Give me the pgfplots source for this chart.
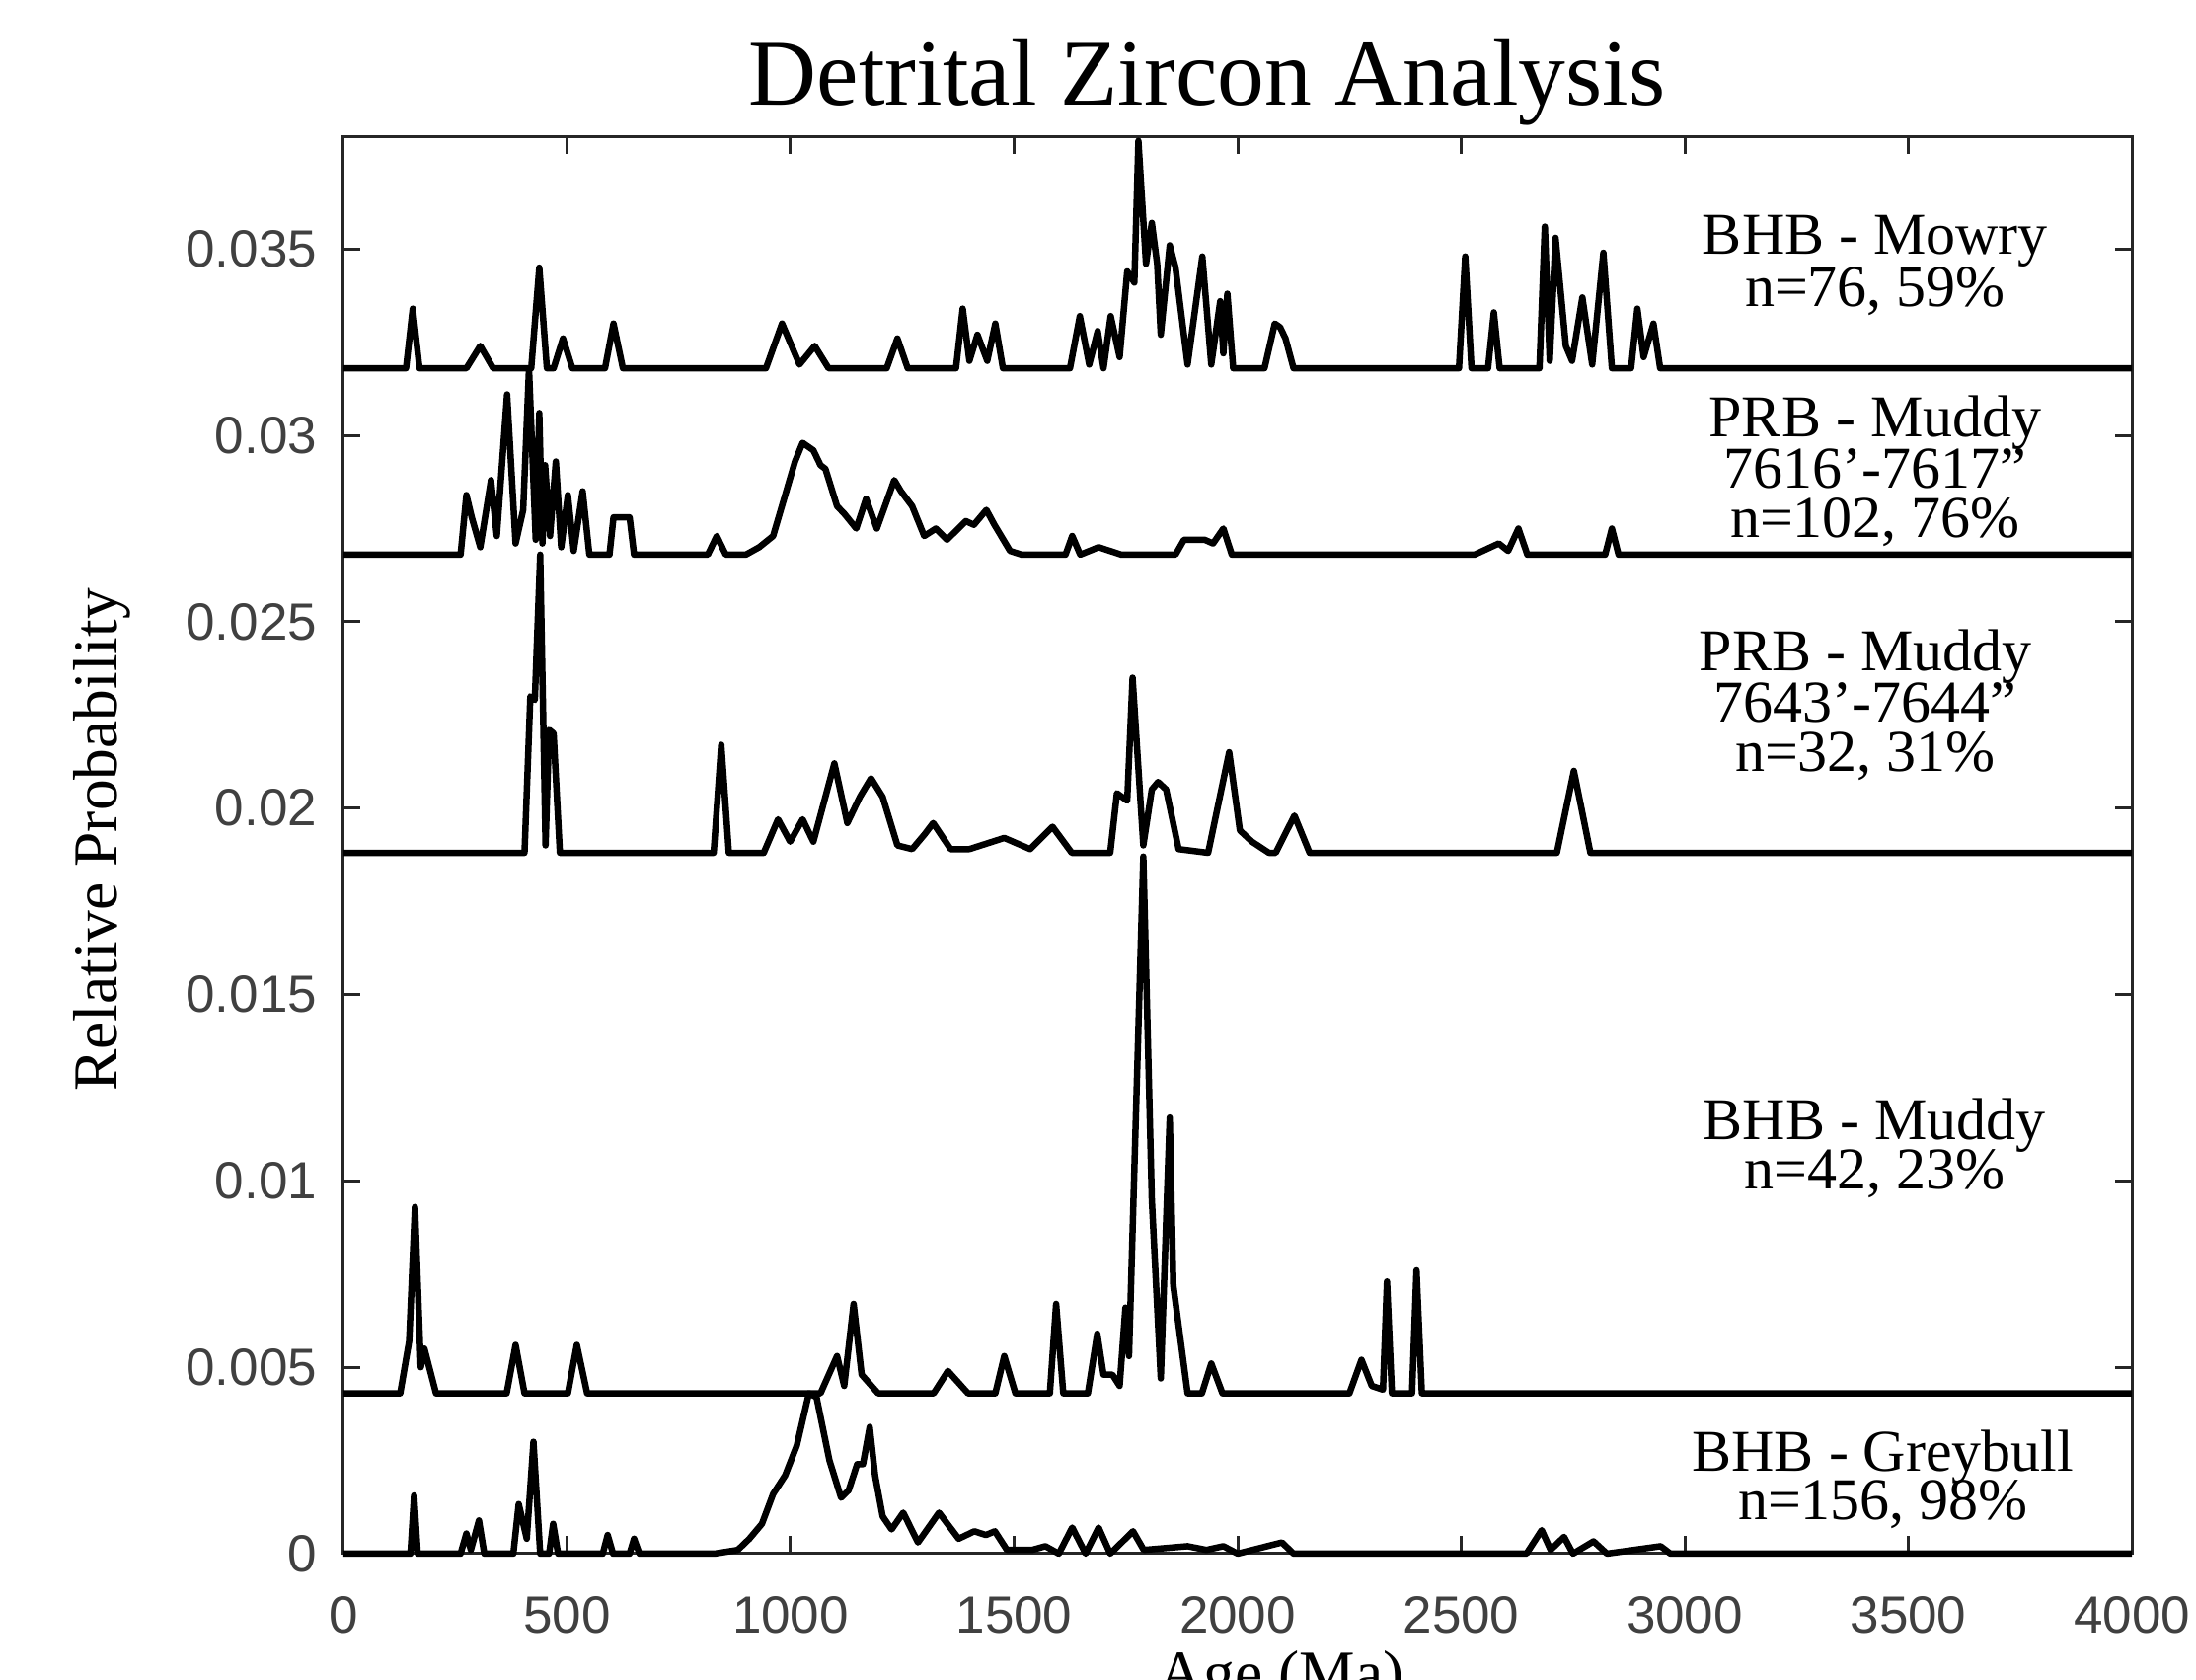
\documentclass[border=0pt]{standalone}
\usepackage{fontspec}
\setmainfont{Liberation Serif}
\newfontfamily\ticksf{Liberation Sans}
\usepackage{pgfplots}
\pgfplotsset{compat=1.18}
\begin{document}
\begin{tikzpicture}
\begin{axis}[
 at={(0,0)}, anchor=south west,
 width=362.4pt, height=287pt, scale only axis,
 xmin=0, xmax=4000, ymin=0, ymax=0.038,
 xtick={0,500,...,4000},
 xticklabels={0,500,1000,1500,2000,2500,3000,3500,4000},
 ytick={0,0.005,0.01,0.015,0.02,0.025,0.03,0.035},
 yticklabels={0,0.005,0.01,0.015,0.02,0.025,0.03,0.035},
 scaled y ticks=false, scaled x ticks=false,
 tick align=inside, major tick length=3.5pt,
 ticklabel style={font=\ticksf\fontsize{10.6}{12}\selectfont, text=black!75},
 yticklabel style={anchor=east, inner sep=0pt, xshift=-5.2pt},
 xticklabel style={anchor=north, inner sep=0pt, yshift=-8.5pt},
 axis line style={black!85, line width=0.6pt},
 tick style={black!85, line width=0.6pt},
 clip=false,
 curve/.style={black, line width=1.3pt, line join=round, mark=none},
]
% BHB - Mowry (baseline 0.0318)
\addplot[curve] coordinates {
(0,0.0318)(140,0.0318)(155,0.0334)(170,0.0318)(275,0.0318)(306,0.0324)(335,0.0318)
(420,0.0318)(438,0.0345)(455,0.0318)(470,0.0318)(491,0.0326)(512,0.0318)
(585,0.0318)(604,0.0330)(625,0.0318)(945,0.0318)(981,0.0330)(1020,0.0319)
(1054,0.0324)(1085,0.0318)(1215,0.0318)(1239,0.0326)(1262,0.0318)(1370,0.0318)
(1385,0.0334)(1400,0.0320)(1418,0.0327)(1440,0.0320)(1458,0.0330)(1475,0.0318)
(1625,0.0318)(1647,0.0332)(1668,0.0319)(1687,0.0328)(1700,0.0318)(1716,0.0332)
(1736,0.0321)(1753,0.0344)(1769,0.0341)(1778,0.0379)(1795,0.0346)(1808,0.0357)
(1820,0.0346)(1828,0.0327)(1848,0.0351)(1861,0.0345)(1888,0.0319)(1921,0.0348)
(1941,0.0319)(1961,0.0336)(1968,0.0322)(1977,0.0338)(1990,0.0318)(2060,0.0318)
(2083,0.0330)(2095,0.0329)(2107,0.0326)(2125,0.0318)(2495,0.0318)(2509,0.0348)
(2523,0.0318)(2560,0.0318)(2573,0.0333)(2586,0.0318)(2675,0.0318)(2687,0.0356)
(2698,0.0320)(2711,0.0353)(2734,0.0324)(2748,0.0320)(2771,0.0337)(2793,0.0319)
(2818,0.0349)(2837,0.0318)(2880,0.0318)(2894,0.0334)(2908,0.0321)(2930,0.0330)
(2945,0.0318)(4000,0.0318)};
% PRB - Muddy 7616-7617 (baseline 0.0268)
\addplot[curve] coordinates {
(0,0.0268)(262,0.0268)(275,0.0284)(287,0.0278)(306,0.0270)(330,0.0288)(343,0.0273)
(366,0.0311)(385,0.0271)(402,0.0280)(415,0.0318)(430,0.0272)(438,0.0306)(445,0.0271)
(451,0.0292)(462,0.0273)(475,0.0293)(487,0.0270)(502,0.0284)(515,0.0269)(535,0.0285)
(550,0.0268)(595,0.0268)(604,0.0278)(640,0.0278)(650,0.0268)(815,0.0268)(835,0.0273)
(855,0.0268)(900,0.0268)(930,0.0270)(961,0.0273)(988,0.0284)(1010,0.0293)(1027,0.0298)
(1051,0.0296)(1067,0.0292)(1078,0.0291)(1104,0.0281)(1120,0.0279)(1147,0.0275)
(1169,0.0283)(1193,0.0275)(1232,0.0288)(1247,0.0285)(1272,0.0281)(1299,0.0273)
(1325,0.0275)(1350,0.0272)(1392,0.0277)(1410,0.0276)(1438,0.0280)(1456,0.0276)
(1491,0.0269)(1517,0.0268)(1615,0.0268)(1630,0.0273)(1648,0.0268)(1689,0.0270)
(1740,0.0268)(1861,0.0268)(1880,0.0272)(1926,0.0272)(1945,0.0271)(1968,0.0275)
(1987,0.0268)(2530,0.0268)(2584,0.0271)(2605,0.0269)(2628,0.0275)(2648,0.0268)
(2822,0.0268)(2837,0.0275)(2852,0.0268)(4000,0.0268)};
% PRB - Muddy 7643-7644 (baseline 0.0188)
\addplot[curve] coordinates {
(0,0.0188)(405,0.0188)(418,0.0230)(428,0.0229)(440,0.0268)(452,0.0190)(460,0.0221)
(470,0.0220)(484,0.0188)(828,0.0188)(845,0.0217)(862,0.0188)(940,0.0188)(972,0.0197)
(999,0.0191)(1027,0.0197)(1051,0.0191)(1098,0.0212)(1127,0.0196)(1155,0.0203)
(1180,0.0208)(1206,0.0203)(1239,0.0190)(1272,0.0189)(1300,0.0193)(1319,0.0196)
(1358,0.0189)(1400,0.0189)(1478,0.0192)(1536,0.0189)(1586,0.0195)(1629,0.0188)
(1715,0.0188)(1730,0.0204)(1753,0.0202)(1765,0.0235)(1789,0.0190)(1808,0.0205)
(1822,0.0207)(1840,0.0205)(1868,0.0189)(1934,0.0188)(1981,0.0215)(2005,0.0194)
(2032,0.0191)(2070,0.0188)(2085,0.0188)(2127,0.0198)(2161,0.0188)(2714,0.0188)
(2752,0.0210)(2789,0.0188)(4000,0.0188)};
% BHB - Muddy (baseline 0.0043)
\addplot[curve] coordinates {
(0,0.0043)(127,0.0043)(147,0.0057)(160,0.0093)(173,0.0050)(181,0.0055)(207,0.0043)
(365,0.0043)(385,0.0056)(405,0.0043)(502,0.0043)(522,0.0056)(545,0.0043)
(1067,0.0043)(1104,0.0053)(1120,0.0045)(1141,0.0067)(1159,0.0048)(1196,0.0043)
(1320,0.0043)(1352,0.0049)(1397,0.0043)(1458,0.0043)(1478,0.0053)(1503,0.0043)
(1580,0.0043)(1594,0.0067)(1610,0.0043)(1665,0.0043)(1686,0.0059)(1700,0.0048)
(1720,0.0048)(1736,0.0045)(1749,0.0066)(1757,0.0053)(1789,0.0187)(1808,0.0095)
(1828,0.0047)(1848,0.0117)(1856,0.0072)(1888,0.0043)(1920,0.0043)(1941,0.0051)
(1966,0.0043)(2250,0.0043)(2277,0.0052)(2300,0.0045)(2325,0.0044)(2334,0.0073)
(2345,0.0043)(2390,0.0043)(2400,0.0076)(2412,0.0043)(4000,0.0043)};
% BHB - Greybull (baseline 0)
\addplot[curve] coordinates {
(0,0)(150,0)(158,0.00156)(166,0)(262,0)(275,0.00054)(285,0.0001)(303,0.00089)(315,0)
(380,0)(392,0.00133)(410,0.0004)(425,0.0030)(440,0)(460,0)(469,0.0008)(480,0)
(580,0)(591,0.0005)(603,0)(640,0)(650,0.0004)(662,0)(830,0)(882,0.0001)(908,0.0004)
(936,0.0008)(961,0.0016)(988,0.0021)(1014,0.0029)(1041,0.0043)(1058,0.0042)
(1087,0.0025)(1113,0.0015)(1130,0.0017)(1149,0.0024)(1162,0.0024)(1177,0.0034)
(1189,0.0021)(1206,0.0010)(1226,0.00065)(1252,0.0011)(1285,0.0003)(1332,0.0011)
(1376,0.0004)(1411,0.0006)(1437,0.0005)(1457,0.0006)(1484,0.0001)(1540,0.0001)
(1570,0.0002)(1600,0)(1630,0.0007)(1660,0)(1689,0.0007)(1715,0)(1766,0.0006)
(1790,0.0001)(1888,0.0002)(1930,0.0001)(1968,0.0002)(2000,0)(2099,0.0003)(2125,0)
(2646,0)(2680,0.00063)(2700,0.0001)(2730,0.00045)(2750,0)(2796,0.00033)(2826,0)
(2946,0.0002)(2968,0)(4000,0)};
% annotations
\begin{scope}[every node/.style={anchor=base, inner sep=0pt, font=\fontsize{12}{12}\selectfont}]
\node at (rel axis cs:0.8565,0.9171) {BHB - Mowry};
\node at (rel axis cs:0.8565,0.8808) {n=76, 59\%};
\node at (rel axis cs:0.8565,0.7882) {PRB - Muddy};
\node at (rel axis cs:0.8565,0.7519) {7616’-7617”};
\node at (rel axis cs:0.8565,0.7171) {n=102, 76\%};
\node at (rel axis cs:0.8510,0.6230) {PRB - Muddy};
\node at (rel axis cs:0.8510,0.5871) {7643’-7644”};
\node at (rel axis cs:0.8510,0.5523) {n=32, 31\%};
\node at (rel axis cs:0.8560,0.2923) {BHB - Muddy};
\node at (rel axis cs:0.8560,0.2575) {n=42, 23\%};
\node at (rel axis cs:0.8609,0.0585) {BHB - Greybull};
\node at (rel axis cs:0.8609,0.0237) {n=156, 98\%};
\end{scope}
\node[anchor=base, inner sep=0pt, font=\fontsize{19.1}{20}\selectfont] at (rel axis cs:0.4829,1.0226) {Detrital Zircon Analysis};
\node[anchor=base, inner sep=0pt, rotate=90, font=\fontsize{12.7}{13}\selectfont] at (rel axis cs:-0.1264,0.5038) {Relative Probability};
\node[anchor=base, inner sep=0pt, font=\fontsize{12.7}{13}\selectfont] at (rel axis cs:0.5243,-0.0990) {Age (Ma)};
\coordinate (BL) at (rel axis cs:-0.19205,-0.0892);
\coordinate (TR) at (rel axis cs:1.03587,1.09686);
\end{axis}
\pgfresetboundingbox
\useasboundingbox (BL) rectangle (TR);
\end{tikzpicture}
\end{document}
